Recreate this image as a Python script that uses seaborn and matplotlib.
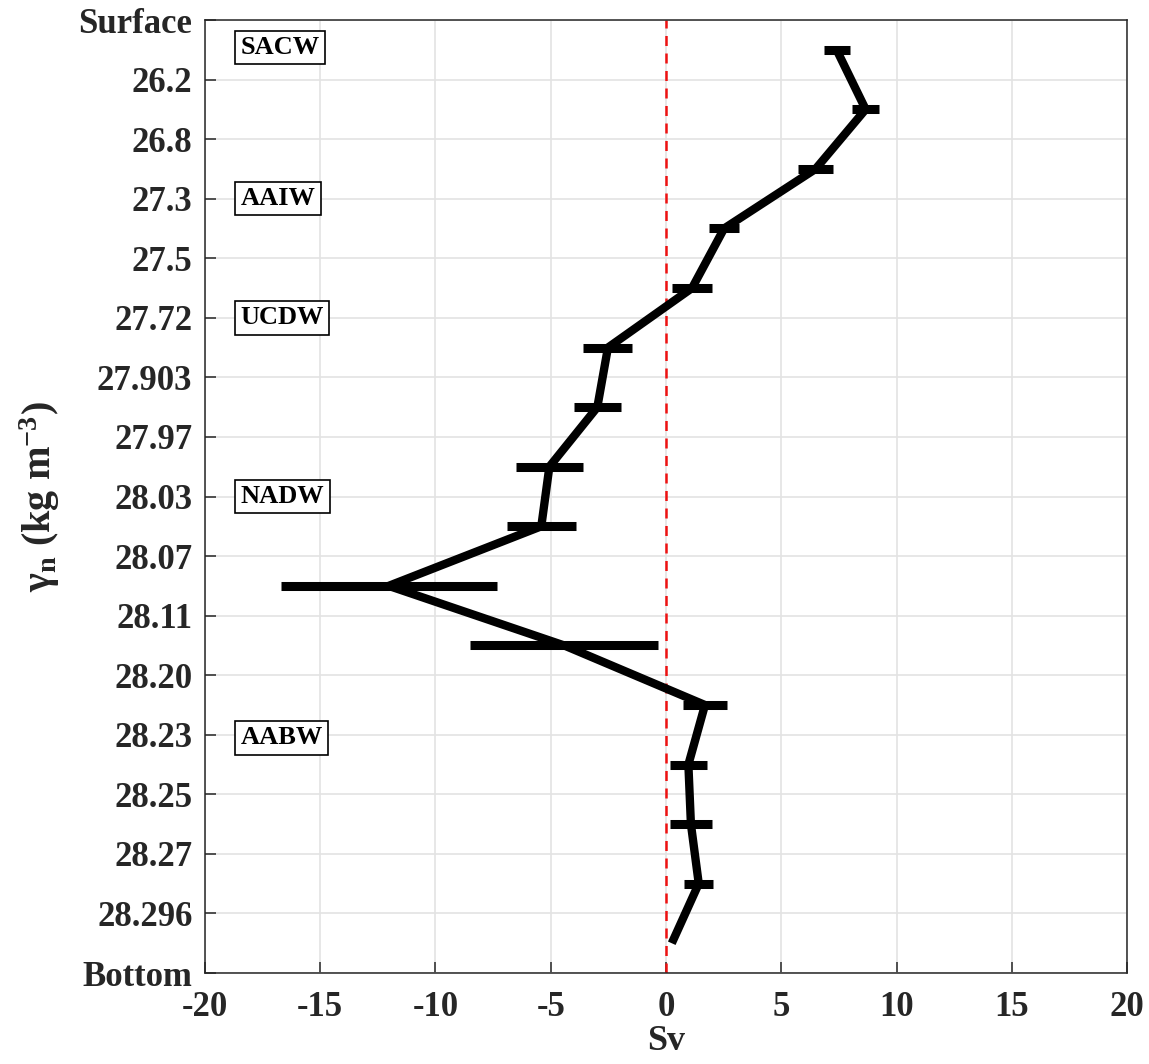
import matplotlib
matplotlib.use("Agg")
import matplotlib.pyplot as plt
import seaborn as sns
import numpy as np
import pandas as pd

# Layer-boundary labels (neutral density surfaces), top to bottom
boundary_labels = ["Surface", "26.2", "26.8", "27.3", "27.5", "27.72", "27.903",
                   "27.97", "28.03", "28.07", "28.11", "28.20", "28.23", "28.25",
                   "28.27", "28.296", "Bottom"]

# Layer mid-positions (index space between boundaries)
layer_pos = [0.5, 1.5, 2.5, 3.5, 4.5, 5.5, 6.5, 7.5, 8.5, 9.5, 10.5, 11.5,
             12.5, 13.5, 14.5, 15.5]
# Net transport in each layer (Sv)
transport = [7.40, 8.66, 6.49, 2.52, 1.13, -2.52, -2.98, -5.06, -5.41, -12.03,
             -4.42, 1.69, 0.97, 1.08, 1.42, 0.25]
# Uncertainty (Sv)
uncert = [0.56, 0.58, 0.77, 0.64, 0.85, 1.06, 1.01, 1.45, 1.50, 4.69, 4.08,
          0.94, 0.80, 0.90, 0.63, 0.0]

# Water mass names and their positions
water_masses = ["SACW", "AAIW", "UCDW", "NADW", "AABW"]
water_mass_pos = [0.46, 3.0, 5.0, 8.0, 12.05]

df = pd.DataFrame({"pos": layer_pos, "Sv": transport, "err": uncert})

sns.set_theme(style="white")
plt.rcParams["font.family"] = ["Liberation Serif", "DejaVu Serif"]
plt.rcParams["font.weight"] = "bold"
plt.rcParams["mathtext.fontset"] = "custom"
plt.rcParams["mathtext.rm"] = "Liberation Serif:bold"
plt.rcParams["mathtext.it"] = "Liberation Serif:italic:bold"
plt.rcParams["mathtext.bf"] = "Liberation Serif:bold"

fig = plt.figure(figsize=(11.49, 10.64), dpi=100)
ax = fig.add_axes([0.1784, 0.0855, 0.8025, 0.8957])

# Grid
ax.set_axisbelow(True)
ax.grid(True, color="#e3e3e3", linewidth=1.2)

# Zero reference
ax.axvline(0, color="#ee1111", linestyle=(0, (4, 3)), linewidth=1.8, zorder=2)

# Profile line
sns.lineplot(data=df, x="Sv", y="pos", sort=False, orient="y", color="black",
             linewidth=6, ax=ax, zorder=3, solid_capstyle="butt")

# Horizontal error bars
has_err = df["err"] > 0
ax.hlines(df.loc[has_err, "pos"],
          df.loc[has_err, "Sv"] - df.loc[has_err, "err"],
          df.loc[has_err, "Sv"] + df.loc[has_err, "err"],
          color="black", linewidth=6.5, zorder=4)

# Water mass boxes
for name, p in zip(water_masses, water_mass_pos):
    ax.text(-18.45, p, name, ha="left", va="center", fontsize=19,
            fontweight="bold", color="black", zorder=5,
            bbox=dict(boxstyle="square,pad=0.2", facecolor="white",
                      edgecolor="black", linewidth=1.2))

ax.set_xlim(-20, 20)
ax.set_ylim(16, 0)
ax.set_xticks(np.arange(-20, 21, 5))
ax.set_xticklabels([str(v) for v in np.arange(-20, 21, 5)])
ax.set_yticks(np.arange(len(boundary_labels)))
ax.set_yticklabels(boundary_labels)

ax.tick_params(axis="both", direction="in", length=8, width=1.1, color="#262626",
               labelsize=25, labelcolor="#262626", pad=9,
               left=True, bottom=True, right=False, top=False)
ax.tick_params(axis="x", pad=13)
for lab in ax.get_xticklabels() + ax.get_yticklabels():
    lab.set_fontweight("bold")

for s in ax.spines.values():
    s.set_visible(True)
    s.set_color("#262626")
    s.set_linewidth(1.1)

ax.set_xlabel("Sv", fontsize=26, fontweight="bold", color="#262626", labelpad=1)
ax.set_ylabel("γ$_\\mathbf{n}$ (kg m$^\\mathbf{-3}$)", fontsize=29,
              fontweight="bold", color="#262626", labelpad=12)

fig.savefig("out.png", dpi=100)
